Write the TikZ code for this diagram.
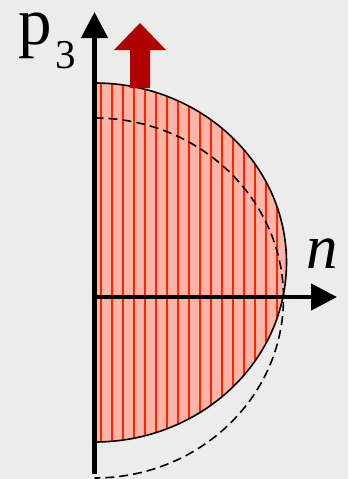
\documentclass[tikz,border=0pt]{standalone}
\usepackage{fontspec}
\setmainfont{Liberation Serif}
\usetikzlibrary{arrows.meta}
\definecolor{bgc}{RGB}{236,236,236}
\definecolor{salmon}{RGB}{255,180,168}
\definecolor{stripe}{RGB}{255,35,0}
\definecolor{darkred}{RGB}{176,0,0}
\tikzset{
  axis/.style={line width=4.5pt, -{Triangle[length=26pt,width=26pt]}},
  rim/.style={line width=1.6pt, black},
  dashrim/.style={line width=1.6pt, black, dash pattern=on 9pt off 5pt},
  stripeline/.style={line width=2.5pt, stripe},
  label/.style={inner sep=0pt, anchor=base west},
}
\begin{document}
\begin{tikzpicture}[x=1pt,y=-1pt]
\useasboundingbox (0,0) rectangle (348,479);
\fill[bgc] (0,0) rectangle (348,479);
% solid half ellipse with stripes
\fill[salmon] (94.5,83) arc[start angle=90,end angle=-90,x radius=192,y radius=-179.5] -- cycle;
\begin{scope}
  \clip (94.5,83) arc[start angle=90,end angle=-90,x radius=192,y radius=-179.5] -- cycle;
  \foreach \k in {0,...,17} {
    \draw[stripeline] (101+11*\k,60) -- (101+11*\k,460);
  }
\end{scope}
\draw[rim] (94.5,83) arc[start angle=90,end angle=-90,x radius=192,y radius=-179.5];
% dashed ellipse
\draw[dashrim] (94.5,118) arc[start angle=90,end angle=-90,x radius=189,y radius=-180];
% red arrow
\fill[darkred] (130,88) -- (130,50) -- (114,50) -- (140,23) -- (166,50) -- (150,50) -- (150,88) -- cycle;
% axes
\coordinate (o) at (94.5,297);
\coordinate (bot) at (94.5,474);
\coordinate (top) at (94.5,12);
\coordinate (right) at (337,297);
\draw[axis] (bot) -- (top);
\draw[axis] (o) -- (right);
% labels
\node[label] (p) at (18,44) {\fontsize{67}{67}\selectfont p};
\node[label] (three) at (55,68) {\fontsize{41}{41}\selectfont 3};
\node[label] (n) at (306,268) {\fontsize{63}{63}\selectfont\itshape n};
\end{tikzpicture}
\end{document}
